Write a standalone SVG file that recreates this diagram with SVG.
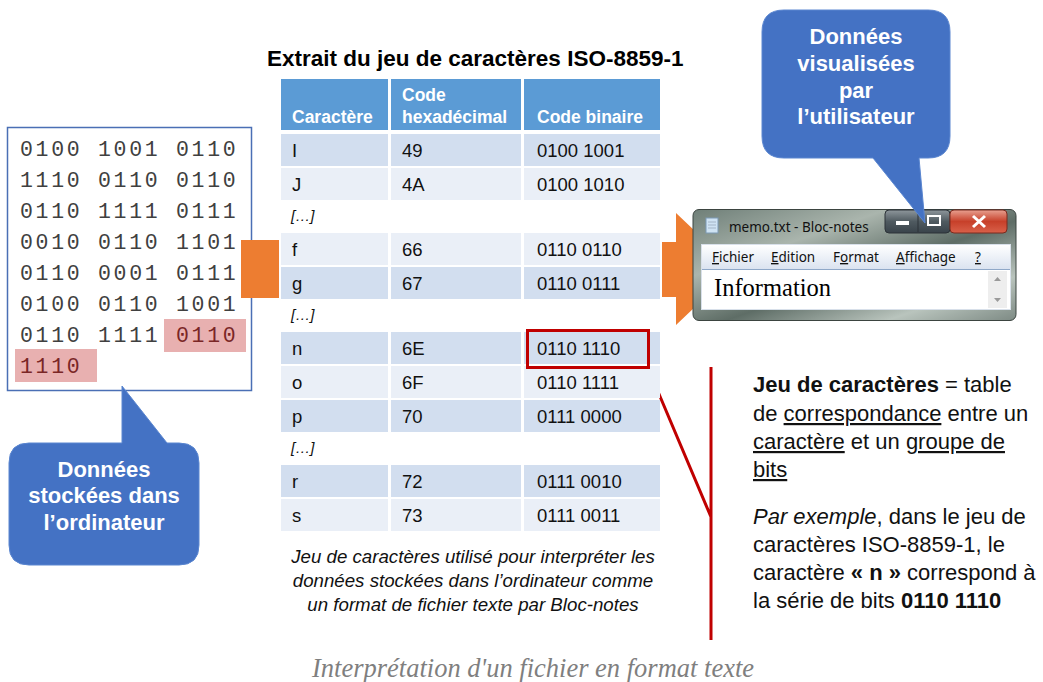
<svg xmlns="http://www.w3.org/2000/svg" width="1043" height="682" viewBox="0 0 1043 682">
<defs>
<style>
.bin{font-family:"Liberation Mono","DejaVu Sans Mono",monospace;font-size:21.5px;letter-spacing:2.7px;fill:#404040}
.binh{fill:#7a2626}
.hl{fill:#e8b0b0}
.title{font-family:"Liberation Sans",Arial,sans-serif;font-weight:bold;font-size:22.5px;fill:#000}
.th{font-family:"Liberation Sans",Arial,sans-serif;font-weight:bold;font-size:17.5px;fill:#fff}
.td{font-family:"Liberation Sans",Arial,sans-serif;font-size:18.5px;fill:#111}
.dots{font-family:"Liberation Sans",Arial,sans-serif;font-style:italic;font-size:15px;fill:#111}
.hd{fill:#5b9bd5}
.dk{fill:#d2deef}
.lt{fill:#eaeff7}
.cap{font-family:"Liberation Sans",Arial,sans-serif;font-style:italic;font-size:18.7px;fill:#111;text-anchor:middle}
.call{fill:#4472c4;stroke:#5a86d0;stroke-width:1}
.callt{font-family:"Liberation Sans",Arial,sans-serif;font-weight:bold;font-size:22px;fill:#fff;text-anchor:middle}
.orange{fill:#ed7d31}
.def{font-family:"Liberation Sans",Arial,sans-serif;font-size:22px;fill:#111}
.u{text-decoration:underline}
.red{fill:none;stroke:#c00000;stroke-width:3}
.win{font-family:"Noto Sans","Open Sans",sans-serif;font-size:13.5px;fill:#111}
</style>
<linearGradient id="glass" x1="0" y1="0" x2="1" y2="1">
<stop offset="0" stop-color="#6f7f78"/>
<stop offset="0.3" stop-color="#aab5ad"/>
<stop offset="0.55" stop-color="#5e6d66"/>
<stop offset="0.8" stop-color="#b9c4bd"/>
<stop offset="1" stop-color="#7d8a84"/>
</linearGradient>
<linearGradient id="menu" x1="0" y1="0" x2="0" y2="1">
<stop offset="0" stop-color="#ffffff"/>
<stop offset="1" stop-color="#dbe3f0"/>
</linearGradient>
<linearGradient id="btn" x1="0" y1="0" x2="0" y2="1">
<stop offset="0" stop-color="#8e979c"/>
<stop offset="0.5" stop-color="#4f5a60"/>
<stop offset="1" stop-color="#39434a"/>
</linearGradient>
<linearGradient id="close" x1="0" y1="0" x2="0" y2="1">
<stop offset="0" stop-color="#e8a090"/>
<stop offset="0.5" stop-color="#c7402a"/>
<stop offset="1" stop-color="#d9614a"/>
</linearGradient>
</defs>
<rect width="1043" height="682" fill="#fff"/>

<g id="stored-data">
<rect x="7.5" y="127.5" width="244" height="263" fill="#fff" stroke="#4a6fb5" stroke-width="1.5"/>
<rect class="hl" x="164" y="319" width="82" height="33"/>
<rect class="hl" x="15" y="349" width="82" height="33"/>
<text class="bin" x="20" y="156">0100</text><text class="bin" x="98" y="156">1001</text><text class="bin" x="176" y="156">0110</text>
<text class="bin" x="20" y="187">1110</text><text class="bin" x="98" y="187">0110</text><text class="bin" x="176" y="187">0110</text>
<text class="bin" x="20" y="218">0110</text><text class="bin" x="98" y="218">1111</text><text class="bin" x="176" y="218">0111</text>
<text class="bin" x="20" y="249">0010</text><text class="bin" x="98" y="249">0110</text><text class="bin" x="176" y="249">1101</text>
<text class="bin" x="20" y="280">0110</text><text class="bin" x="98" y="280">0001</text><text class="bin" x="176" y="280">0111</text>
<text class="bin" x="20" y="311">0100</text><text class="bin" x="98" y="311">0110</text><text class="bin" x="176" y="311">1001</text>
<text class="bin" x="20" y="342">0110</text><text class="bin" x="98" y="342">1111</text><text class="bin binh" x="176" y="342">0110</text>
<text class="bin binh" x="20" y="373">1110</text>
</g>

<g id="connectors">
<rect class="orange" x="241" y="240" width="38" height="58"/>
<polygon class="orange" points="662,242 676,242 676,213 735,269 676,325 676,297 662,297"/>
<path class="red" d="M648,368 L711,517 M711,367 L711,640"/>
</g>

<g id="table">
<text class="title" x="267" y="66">Extrait du jeu de caractères ISO-8859-1</text>
<rect class="hd" x="281" y="79" width="107" height="51"/>
<rect class="hd" x="391" y="79" width="130" height="51"/>
<rect class="hd" x="524" y="79" width="136" height="51"/>
<text class="th" x="292" y="123">Caractère</text>
<text class="th" x="402" y="101">Code</text>
<text class="th" x="402" y="123">hexadécimal</text>
<text class="th" x="537" y="123">Code binaire</text>

<g class="dk"><rect x="281" y="134" width="107" height="32"/><rect x="391" y="134" width="130" height="32"/><rect x="524" y="134" width="136" height="32"/></g>
<g class="lt"><rect x="281" y="168" width="107" height="32"/><rect x="391" y="168" width="130" height="32"/><rect x="524" y="168" width="136" height="32"/></g>
<g class="lt"><rect x="281" y="233" width="107" height="32"/><rect x="391" y="233" width="130" height="32"/><rect x="524" y="233" width="136" height="32"/></g>
<g class="dk"><rect x="281" y="267" width="107" height="32"/><rect x="391" y="267" width="130" height="32"/><rect x="524" y="267" width="136" height="32"/></g>
<g class="dk"><rect x="281" y="332" width="107" height="32"/><rect x="391" y="332" width="130" height="32"/><rect x="524" y="332" width="136" height="32"/></g>
<g class="lt"><rect x="281" y="366" width="107" height="32"/><rect x="391" y="366" width="130" height="32"/><rect x="524" y="366" width="136" height="32"/></g>
<g class="dk"><rect x="281" y="400" width="107" height="32"/><rect x="391" y="400" width="130" height="32"/><rect x="524" y="400" width="136" height="32"/></g>
<g class="dk"><rect x="281" y="465" width="107" height="32"/><rect x="391" y="465" width="130" height="32"/><rect x="524" y="465" width="136" height="32"/></g>
<g class="lt"><rect x="281" y="499" width="107" height="32"/><rect x="391" y="499" width="130" height="32"/><rect x="524" y="499" width="136" height="32"/></g>

<text class="td" x="292" y="157">I</text><text class="td" x="402" y="157">49</text><text class="td" x="537" y="157">0100 1001</text>
<text class="td" x="292" y="191">J</text><text class="td" x="402" y="191">4A</text><text class="td" x="537" y="191">0100 1010</text>
<text class="dots" x="291" y="221">[…]</text>
<text class="td" x="292" y="256">f</text><text class="td" x="402" y="256">66</text><text class="td" x="537" y="256">0110 0110</text>
<text class="td" x="292" y="290">g</text><text class="td" x="402" y="290">67</text><text class="td" x="537" y="290">0110 0111</text>
<text class="dots" x="291" y="320">[…]</text>
<text class="td" x="292" y="355">n</text><text class="td" x="402" y="355">6E</text><text class="td" x="537" y="355">0110 1110</text>
<text class="td" x="292" y="389">o</text><text class="td" x="402" y="389">6F</text><text class="td" x="537" y="389">0110 1111</text>
<text class="td" x="292" y="423">p</text><text class="td" x="402" y="423">70</text><text class="td" x="537" y="423">0111 0000</text>
<text class="dots" x="291" y="453">[…]</text>
<text class="td" x="292" y="488">r</text><text class="td" x="402" y="488">72</text><text class="td" x="537" y="488">0111 0010</text>
<text class="td" x="292" y="522">s</text><text class="td" x="402" y="522">73</text><text class="td" x="537" y="522">0111 0011</text>

<rect class="red" x="527.5" y="330.5" width="121" height="37"/>

<text class="cap" x="473" y="563">Jeu de caractères utilisé pour interpréter les</text>
<text class="cap" x="473" y="587">données stockées dans l’ordinateur comme</text>
<text class="cap" x="473" y="611">un format de fichier texte par Bloc-notes</text>
</g>

<g id="notepad">
<rect x="693" y="209.5" width="323" height="111" rx="6" fill="url(#glass)" stroke="#3b4440" stroke-width="1"/>
<rect x="706" y="218" width="12" height="15" fill="#cfe3f3" stroke="#7d9ab5" stroke-width="1"/>
<path d="M708,222 H716 M708,225 H716 M708,228 H716" stroke="#9ab" stroke-width="0.8"/>
<text class="win" x="729" y="232">memo.txt - Bloc-notes</text>
<rect x="885" y="210" width="65" height="23" rx="4" fill="url(#btn)" stroke="#2c3338" stroke-width="1"/>
<line x1="918" y1="211" x2="918" y2="232" stroke="#2c3338" stroke-width="1"/>
<rect x="896" y="221" width="13" height="4" fill="#fff"/>
<rect x="928" y="216" width="12" height="9" fill="none" stroke="#fff" stroke-width="2"/>
<rect x="950" y="210" width="57" height="23" rx="4" fill="url(#close)" stroke="#7a2a1e" stroke-width="1"/>
<path d="M973,216 L985,227 M985,216 L973,227" stroke="#fff" stroke-width="3"/>
<rect x="701.5" y="244.5" width="309" height="65" fill="#fff" stroke="#d8e0ea" stroke-width="1"/>
<rect x="702" y="245" width="308" height="24" fill="url(#menu)"/>
<line x1="702" y1="269.5" x2="1010" y2="269.5" stroke="#8fa8c8" stroke-width="1"/>
<text class="win" x="712" y="262"><tspan class="u">F</tspan>ichier</text>
<text class="win" x="771" y="262"><tspan class="u">E</tspan>dition</text>
<text class="win" x="833" y="262">F<tspan class="u">o</tspan>rmat</text>
<text class="win" x="896" y="262"><tspan class="u">A</tspan>ffichage</text>
<text class="win" x="975" y="262"><tspan class="u">?</tspan></text>
<rect x="988" y="271" width="19" height="37" fill="#eeeeee"/>
<path d="M994,281 L997.5,277 L1001,281 Z M994,298 L997.5,302 L1001,298 Z" fill="#9a9a9a"/>
<text x="714" y="296" font-family="Liberation Serif,Times New Roman,serif" font-size="24.5" fill="#000">Information</text>
</g>

<g id="callout-stored">
<path class="call" d="M29,443 L122,443 L122,386 L167,443 L179,443 Q199,443 199,463 L199,545 Q199,565 179,565 L29,565 Q9,565 9,545 L9,463 Q9,443 29,443 Z"/>
<text class="callt" x="104" y="477">Données</text>
<text class="callt" x="104" y="503">stockées dans</text>
<text class="callt" x="104" y="530">l’ordinateur</text>
</g>

<g id="callout-viewed">
<path class="call" d="M784,10 L928,10 Q950,10 950,32 L950,136 Q950,158 928,158 L919,158 L925,223 L873,158 L784,158 Q762,158 762,136 L762,32 Q762,10 784,10 Z"/>
<text class="callt" x="856" y="44">Données</text>
<text class="callt" x="856" y="71">visualisées</text>
<text class="callt" x="856" y="98">par</text>
<text class="callt" x="856" y="124">l’utilisateur</text>
</g>

<g id="definition">
<text class="def" x="753" y="392"><tspan font-weight="bold">Jeu de caractères</tspan> = table</text>
<text class="def" x="753" y="421">de <tspan class="u">correspondance</tspan> entre un</text>
<text class="def" x="753" y="449"><tspan class="u">caractère</tspan> et un <tspan class="u">groupe de</tspan></text>
<text class="def" x="753" y="477"><tspan class="u">bits</tspan></text>
<text class="def" x="753" y="524"><tspan font-style="italic">Par exemple</tspan>, dans le jeu de</text>
<text class="def" x="753" y="552">caractères ISO-8859-1, le</text>
<text class="def" x="753" y="580">caractère <tspan font-weight="bold">« n »</tspan> correspond à</text>
<text class="def" x="753" y="608">la série de bits <tspan font-weight="bold">0110 1110</tspan></text>
</g>

<text x="533" y="677" text-anchor="middle" font-family="Liberation Serif,Times New Roman,serif" font-style="italic" font-size="26.5" fill="#7f7f7f">Interprétation d'un fichier en format texte</text>
</svg>
